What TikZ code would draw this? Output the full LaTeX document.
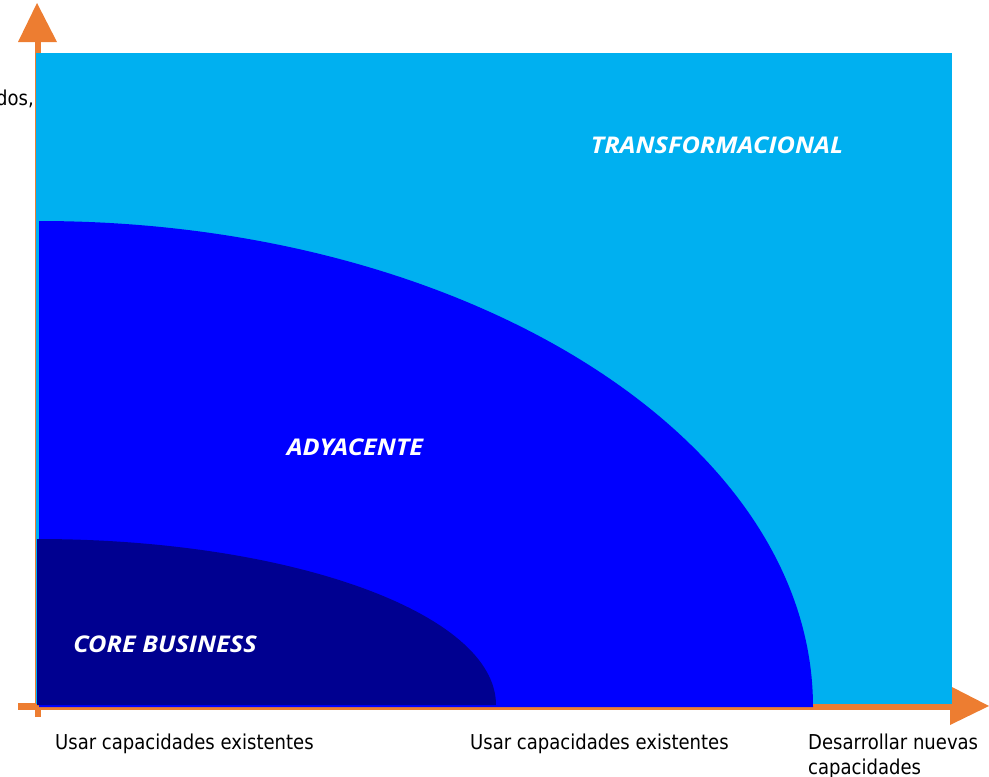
\documentclass[tikz,border=0pt]{standalone}
\usepackage{fontspec}
\setmainfont[FakeStretch=0.88]{DejaVu Sans}
\newfontfamily\zonefont[FakeStretch=1.1]{Open Sans}
\begin{document}
\begin{tikzpicture}[x=1pt,y=-1pt,
  axis/.style={draw=axisorange,line width=7pt},
  axishead/.style={fill=axisorange},
  zone/.style={font=\zonefont\bfseries\itshape\fontsize{23}{27}\selectfont,text=white,inner sep=0pt},
  axislabel/.style={font=\fontsize{20.5}{25}\selectfont,inner sep=0pt,align=left,text=black}]
\definecolor{axisorange}{HTML}{ED7D31}
\definecolor{outerzone}{HTML}{00B0F0}
\definecolor{midzone}{HTML}{0000FF}
\definecolor{innerzone}{HTML}{000090}
\useasboundingbox (0,0) rectangle (989,777);

% axes
\coordinate (origin) at (38,706);
\coordinate (ytop) at (38,42);
\coordinate (xend) at (950,706);
\draw[axis,line width=6pt] (38,717) -- (ytop);
\fill[axishead] (18,42) -- (57,42) -- (37,3) -- cycle;
\draw[axis] (18,706) -- (xend);
\fill[axishead] (950,686) -- (950,725) -- (989,706) -- cycle;

% zones (y axis points down, so the arcs run from -90 to 0)
\fill[outerzone] (36,53) rectangle (952,704);
\fill[midzone] (39,707) -- (39,221) arc[start angle=-90,end angle=0,x radius=774,y radius=486] -- cycle;
\fill[innerzone] (37,705) -- (37,539) arc[start angle=-90,end angle=0,x radius=459,y radius=166] -- cycle;

\node[zone] (transf) at (717,145) {TRANSFORMACIONAL};
\node[zone] (adyac) at (355,447) {ADYACENTE};
\node[zone] (core) at (165,644) {CORE BUSINESS};

% axis labels
\node[axislabel,anchor=base west] (lab1) at (55,749) {Usar capacidades existentes};
\node[axislabel,anchor=base west] (lab2) at (470,749) {Usar capacidades existentes};
\node[axislabel,anchor=base west] (lab3) at (808,774) {Desarrollar nuevas\\capacidades};
\node[axislabel,anchor=base east] (ylab) at (34,105) {dos,};
\end{tikzpicture}
\end{document}
